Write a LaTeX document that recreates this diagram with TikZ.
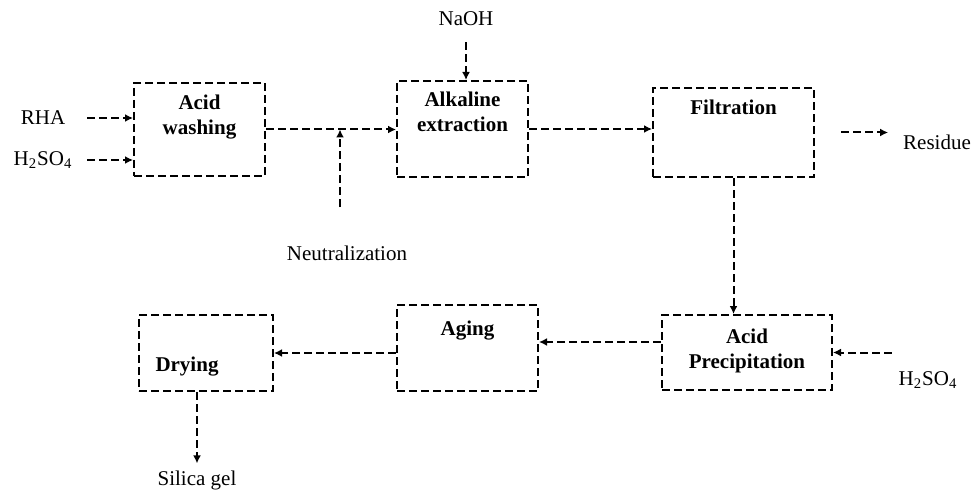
\documentclass[tikz,border=0pt]{standalone}
\usepackage{fontspec}
\setmainfont{Liberation Serif}
\usetikzlibrary{positioning, arrows.meta}

\begin{document}
\begin{tikzpicture}[
x=0.5pt, y=-0.5pt,
font=\fontsize{10.5}{12.5}\selectfont,
stage/.style 2 args={rectangle, draw, line width=1pt, dash pattern=on 4pt off 2pt, minimum width=#1, minimum height=#2},
stagetext/.style={font=\fontsize{10.5}{12.5}\selectfont\bfseries, align=center, inner sep=0pt},
feed/.style={minimum width=36pt},
flow/.style={-{Latex[length=4pt,width=4pt]}, line width=1pt, dash pattern=on 4pt off 2pt}
]
\useasboundingbox (0,0) rectangle (974,492);

% Process stages
\node[stage={65.5pt}{46.5pt}] (wash) at (199.5,129.5) {};
\node[stage={65.5pt}{48pt}] (alk) at (462.5,129) {};
\node[stage={80.5pt}{44.5pt}] (filt) at (733.5,132.5) {};
\node[stage={85pt}{37.5pt}] (prec) at (747,352.5) {};
\node[stage={70.5pt}{43pt}] (aging) at (467.5,348) {};
\node[stage={67pt}{38pt}] (dry) at (206,353) {};

% Stage names
\node[stagetext, below=6.5pt of wash.north] (wash_txt) {Acid\\washing};
\node[stagetext, below=6pt of alk.north] (alk_txt) {Alkaline\\extraction};
\node[stagetext, below=6.5pt of filt.north] (filt_txt) {Filtration};
\node[stagetext, below=7.5pt of prec.north] (prec_txt) {Acid\\Precipitation};
\node[stagetext, below=8.5pt of aging.north] (aging_txt) {Aging};
\node[stagetext, below=21.5pt of dry.north, xshift=-9.5pt] (dry_txt) {Drying};

% Inputs and outputs
\node[feed] (rha) at (43,118) {RHA};
\node[feed] (acid_in) at (43,160) {H\textsubscript{2}SO\textsubscript{4}};
\node (naoh) at (466,19) {NaOH};
\node (residue) at (937,142) {Residue};
\node (neut) at (347,253) {Neutralization};
\node (acid_prec) at (928,380) {H\textsubscript{2}SO\textsubscript{4}};
\node (silica) at (197,480) {Silica gel};
\coordinate (neut_top) at (340,207);

% Arrows
\draw[flow, shorten <=4pt] (rha.east) -- (rha.east -| wash.west);
\draw[flow, shorten <=4pt] (acid_in.east) -- (acid_in.east -| wash.west);
\draw[flow] (wash.east) -- (wash.east -| alk.west);
\draw[flow] (neut_top) -- (neut_top |- wash.east);
\draw[flow, shorten <=4.5pt] (naoh) -- (naoh |- alk.north);
\draw[flow] (alk.east) -- (alk.east -| filt.west);
\draw[flow, shorten <=13pt, shorten >=4pt] (filt.east) -- (filt.east -| residue.west);
\draw[flow] (filt.south) -- (filt.south |- prec.north);
\draw[flow] (acid_prec.west |- prec.east) -- (prec.east);
\draw[flow] ([yshift=5.25pt]prec.west) coordinate (prec_out) -- (prec_out -| aging.east);
\draw[flow] (aging.west |- dry.east) -- (dry.east);
\draw[flow] (silica |- dry.south) -- (silica);

\end{tikzpicture}
\end{document}
